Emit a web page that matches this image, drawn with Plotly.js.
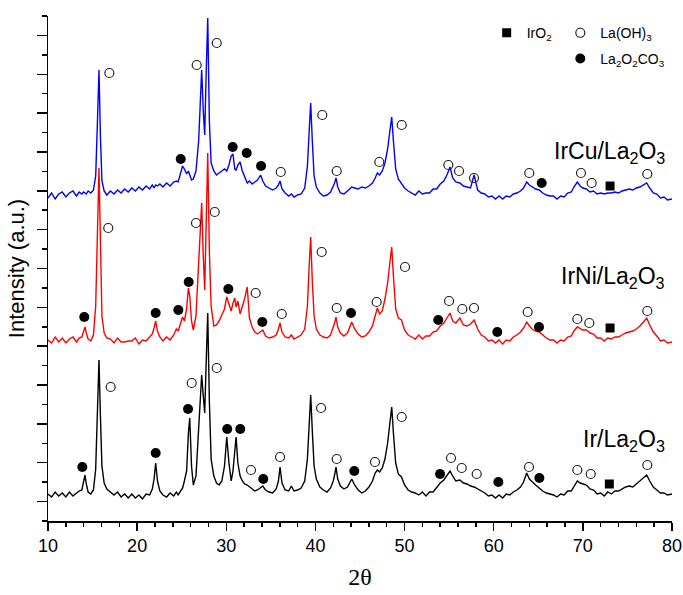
<!DOCTYPE html>
<html>
<head>
<meta charset="utf-8">
<script src="https://cdn.plot.ly/plotly-3.0.1.min.js"></script>
<style>
  html, body { margin: 0; padding: 0; background: #fff; }
  #chart { width: 683px; height: 595px; }
</style>
</head>
<body>
<div id="chart"></div>
<script>
// Diffraction angle grid (2θ, degrees), shared by the three patterns
const twoTheta = [
  10.0, 10.4, 10.8, 11.2, 11.6, 12.0, 12.4, 12.8, 13.2, 13.5,
  13.8, 14.0, 14.15, 14.3, 14.5, 14.8, 15.1, 15.35, 15.55, 15.72,
  15.88, 16.05, 16.3, 16.6, 17.0, 17.4, 17.8, 18.2, 18.6, 19.0,
  19.4, 19.8, 20.2, 20.6, 21.0, 21.4, 21.7, 21.9, 22.08, 22.28,
  22.55, 22.9, 23.3, 23.7, 24.1, 24.4, 24.6, 24.85, 25.1, 25.3,
  25.55, 25.75, 25.9, 26.1, 26.3, 26.6, 26.9, 27.1, 27.24, 27.42,
  27.58, 27.75, 27.92, 28.1, 28.3, 28.6, 28.9, 29.2, 29.5, 29.8,
  30.05, 30.3, 30.55, 30.75, 30.95, 31.1, 31.3, 31.55, 31.8, 32.05,
  32.35, 32.6, 32.9, 33.2, 33.5, 33.85, 34.1, 34.4, 34.8, 35.2,
  35.6, 35.85, 36.03, 36.25, 36.6, 37.0, 37.3, 37.6, 38.0, 38.4,
  38.8, 39.1, 39.3, 39.47, 39.65, 39.85, 40.1, 40.5, 40.9, 41.3,
  41.7, 42.0, 42.15, 42.31, 42.5, 42.8, 43.2, 43.6, 44.07, 44.4,
  44.8, 45.2, 45.6, 46.0, 46.4, 46.7, 46.95, 47.2, 47.5, 47.8,
  48.1, 48.35, 48.56, 48.75, 49.0, 49.3, 49.65, 50.0, 50.4, 50.8,
  51.2, 51.6, 52.0, 52.4, 52.8, 53.2, 53.6, 54.0, 54.4, 54.75,
  55.1, 55.4, 55.75, 56.2, 56.6, 57.0, 57.4, 57.8, 58.2, 58.6,
  59.0, 59.4, 59.8, 60.2, 60.6, 61.0, 61.4, 61.8, 62.2, 62.6,
  63.0, 63.35, 63.7, 64.0, 64.3, 64.7, 65.1, 65.5, 65.9, 66.3,
  66.7, 67.1, 67.5, 67.9, 68.3, 68.7, 69.0, 69.38, 69.7, 70.0,
  70.4, 70.8, 71.2, 71.6, 72.0, 72.4, 72.8, 73.2, 73.6, 74.0,
  74.4, 74.8, 75.2, 75.6, 76.0, 76.4, 76.8, 77.16, 77.5, 77.9,
  78.3, 78.7, 79.1, 79.5, 80.0
];

// Stacked intensities (a.u.), offset patterns
const irLa2O3 = [
  27, 24, 29, 25, 28, 24, 29, 25, 28, 30,
  31, 38, 46, 37, 29, 27, 31, 52, 112, 161,
  105, 55, 38, 32, 29, 26, 29, 24, 27, 23,
  27, 23, 26, 22, 27, 26, 32, 42, 58, 40,
  30, 26, 24, 28, 25, 29, 26, 30, 33, 40,
  50, 88, 103, 55, 36, 45, 90, 125, 146, 125,
  108, 160, 208, 120, 62, 45, 38, 36, 40, 55,
  84, 58, 40, 50, 75, 84, 58, 45, 40, 37,
  36, 34, 32, 30, 31, 33, 35, 31, 29, 28,
  32, 40, 54, 38, 31, 30, 35, 30, 31, 33,
  40, 62, 95, 126, 90, 55, 42, 34, 31, 29,
  33, 40, 46, 54, 42, 35, 32, 34, 42, 36,
  31, 28, 30, 34, 40, 48, 51, 49, 53, 62,
  78, 98, 114, 88, 58, 47, 44, 36, 31, 29,
  28, 26, 29, 25, 29, 29, 34, 38, 41, 45,
  50, 45, 40, 41, 38, 37, 35, 34, 32, 30,
  28, 25, 26, 23, 26, 23, 27, 26, 29, 31,
  34, 39, 48, 42, 39, 36, 33, 30, 28, 27,
  26, 24, 27, 26, 30, 30, 35, 40, 38, 37,
  36, 32, 31, 27, 28, 25, 29, 27, 30, 30,
  32, 34, 35, 34, 37, 40, 43, 46, 40, 34,
  31, 28, 28, 26, 27
];

const irNiLa2O3 = [
  181, 178, 184, 179, 183, 178, 182, 184, 179, 183,
  184, 189, 194, 188, 182, 180, 186, 215, 300, 353,
  280, 205, 188, 183, 182, 178, 183, 179, 179, 180,
  180, 183, 177, 181, 180, 184, 187, 193, 200, 190,
  184, 180, 184, 181, 186, 192, 190, 197, 204, 200,
  212, 233, 225, 200, 191, 205, 260, 300, 318, 265,
  231, 300, 368, 270, 215, 195, 196, 200, 206, 212,
  224, 216, 210, 218, 223, 214, 220, 207, 214, 222,
  234, 203, 194, 189, 187, 189, 191, 185, 183, 184,
  186, 192, 198, 189, 184, 183, 186, 182, 184, 186,
  192, 215, 255, 284, 240, 205, 192, 186, 184, 183,
  186, 193, 198, 204, 194, 188, 185, 188, 199, 192,
  187, 184, 185, 189, 195, 205, 213, 207, 210, 222,
  238, 258, 274, 245, 212, 203, 201, 191, 186, 184,
  182, 186, 182, 185, 185, 189, 190, 195, 198, 203,
  208, 200, 198, 203, 196, 195, 197, 201, 192, 186,
  184, 180, 181, 178, 181, 177, 181, 180, 184, 186,
  189, 193, 199, 195, 192, 190, 189, 186, 183, 181,
  181, 178, 181, 180, 184, 185, 190, 194, 192, 191,
  191, 188, 187, 183, 183, 180, 183, 182, 184, 184,
  186, 188, 189, 190, 192, 195, 199, 203, 196, 189,
  185, 180, 181, 178, 179
];

const irCuLa2O3 = [
  323, 328, 322, 327, 329, 324, 328, 330, 325, 329,
  327, 329, 328, 327, 330, 328, 331, 345, 400, 451,
  385, 340, 330, 326, 330, 327, 331, 328, 332, 329,
  333, 330, 334, 331, 335, 332, 336, 333, 336, 335,
  337, 334, 338, 335, 339, 340, 339, 346, 355, 352,
  347, 350, 345, 341, 342, 350, 380, 420, 451, 410,
  386, 450, 503, 400, 358, 350, 346, 348, 350, 352,
  350, 356, 365, 367, 352, 351, 356, 359, 350, 344,
  338, 340, 337, 339, 341, 346, 340, 335, 333, 331,
  333, 336, 340, 332, 328, 325, 327, 324, 326, 327,
  333, 355, 390, 418, 380, 345, 334, 328, 325, 326,
  329, 334, 338, 343, 334, 328, 327, 330, 334, 333,
  332, 334, 333, 335, 338, 343, 348, 346, 350, 358,
  372, 390, 404, 380, 352, 342, 338, 333, 330, 328,
  326, 330, 327, 328, 328, 332, 332, 337, 340, 346,
  354, 343, 339, 338, 335, 334, 333, 346, 331, 328,
  327, 324, 325, 322, 325, 322, 325, 324, 327, 328,
  330, 333, 339, 336, 334, 332, 331, 328, 326, 325,
  325, 322, 325, 324, 328, 329, 334, 339, 335, 333,
  332, 329, 330, 327, 328, 327, 328, 328, 329, 328,
  330, 331, 332, 331, 333, 334, 336, 338, 333, 328,
  327, 323, 324, 321, 322
];

// Phase reflection marks (2θ and marker height on the stacked scale)
const irO2Theta = [72.97, 73.05, 73.05];
const irO2Y = [37, 193, 335];

const laOH3Theta = [
  17.03, 26.12, 28.93, 32.77, 36.03, 40.63, 42.39, 46.68, 49.68, 55.21, 56.41, 58.09, 63.96, 69.38, 70.88, 77.23,
  16.76, 26.60, 28.70, 33.30, 36.22, 40.70, 42.39, 46.87, 50.05, 54.99, 56.48, 57.79, 63.81, 69.38, 70.72, 77.23,
  16.88, 26.68, 28.93, 36.11, 40.77, 42.39, 47.17, 49.68, 54.91, 56.11, 57.79, 63.99, 69.79, 70.99, 77.23
];
const laOH3Y = [
  134, 138, 153, 51, 64, 113, 62, 59, 104, 63, 53, 47, 54, 51, 47, 56,
  293, 298, 309, 228, 207, 269, 213, 219, 254, 220, 212, 213, 209, 202, 198, 210,
  448, 456, 478, 349, 406, 350, 359, 396, 356, 350, 343, 348, 348, 338, 347
];

const la2O2CO3Theta = [
  13.85, 22.08, 25.71, 30.11, 31.57, 34.15, 44.36, 53.98, 60.52, 65.12,
  14.07, 22.08, 24.62, 25.78, 30.23, 34.04, 43.99, 53.78, 60.40, 65.08,
  24.89, 30.72, 32.29, 33.90, 65.38
];
const la2O2CO3Y = [
  54, 68, 112, 92, 92, 42, 50, 47, 39, 43,
  204, 208, 211, 239, 232, 199, 208, 201, 189, 194,
  362, 374, 368, 355, 338
];

const sampleNames = ['Ir/La<sub>2</sub>O<sub>3</sub>', 'IrNi/La<sub>2</sub>O<sub>3</sub>', 'IrCu/La<sub>2</sub>O<sub>3</sub>'];
const sampleLabelY = [81, 244, 369];
const sampleColors = ['#000000', '#ff0000', '#0000ff'];
const phaseNames = ['IrO<sub>2</sub>', 'La(OH)<sub>3</sub>', 'La<sub>2</sub>O<sub>2</sub>CO<sub>3</sub>'];

const sansFont = 'Liberation Sans, Arial, sans-serif';
const serifFont = 'Liberation Serif, Times New Roman, serif';

const patterns = [irLa2O3, irNiLa2O3, irCuLa2O3];
const traces = patterns.map((ys, i) => ({
  type: 'scatter',
  mode: 'lines',
  x: twoTheta,
  y: ys,
  line: { color: sampleColors[i], width: 1.4 },
  showlegend: false,
  hoverinfo: 'skip'
}));

traces.push({
  type: 'scatter', mode: 'markers', name: phaseNames[0], legend: 'legend',
  x: irO2Theta, y: irO2Y, cliponaxis: false,
  marker: { symbol: 'square', size: 9, color: '#000' }
});
traces.push({
  type: 'scatter', mode: 'markers', name: phaseNames[1], legend: 'legend2',
  x: laOH3Theta, y: laOH3Y, cliponaxis: false,
  marker: { symbol: 'circle-open', size: 9, color: '#222', line: { width: 1.2 } }
});
traces.push({
  type: 'scatter', mode: 'markers', name: phaseNames[2], legend: 'legend3',
  x: la2O2CO3Theta, y: la2O2CO3Y, cliponaxis: false,
  marker: { symbol: 'circle', size: 10, color: '#000' }
});

const legendBase = {
  xanchor: 'left', yanchor: 'middle',
  bgcolor: 'rgba(0,0,0,0)', borderwidth: 0,
  font: { family: sansFont, size: 14, color: '#000' },
  itemwidth: 30
};

const layout = {
  width: 683, height: 595,
  margin: { l: 48, r: 11, t: 16, b: 74 },
  paper_bgcolor: '#fff', plot_bgcolor: '#fff',
  showlegend: true,
  legend: Object.assign({}, legendBase, { x: 0.703, y: 0.966 }),
  legend2: Object.assign({}, legendBase, { x: 0.821, y: 0.966 }),
  legend3: Object.assign({}, legendBase, { x: 0.821, y: 0.915 }),
  xaxis: {
    range: [10, 80],
    tick0: 10, dtick: 10,
    ticks: 'outside', ticklen: 8, tickwidth: 1.5, tickcolor: '#000',
    minor: { dtick: 2, ticks: 'outside', ticklen: 4, tickwidth: 1.5, tickcolor: '#000' },
    showline: true, linewidth: 1.5, linecolor: '#000',
    showgrid: false, zeroline: false,
    tickfont: { family: sansFont, size: 18, color: '#000' },
    title: { text: '2θ', font: { family: serifFont, size: 24, color: '#000' }, standoff: 13 }
  },
  yaxis: {
    range: [0, 505],
    tick0: 19.423, dtick: 38.846,
    ticks: 'outside', ticklen: 10, tickwidth: 1.5, tickcolor: '#000',
    minor: { tick0: 0, dtick: 19.423, ticks: 'outside', ticklen: 5, tickwidth: 1.5, tickcolor: '#000' },
    showticklabels: false,
    showline: true, linewidth: 1.5, linecolor: '#000',
    showgrid: false, zeroline: false,
    title: { text: 'Intensity (a.u.)', font: { family: sansFont, size: 22, color: '#000' }, standoff: 6 }
  },
  annotations: sampleNames.map((name, i) => ({
    xref: 'paper', yref: 'y',
    x: 0.992, y: sampleLabelY[i],
    xanchor: 'right', yanchor: 'middle',
    text: name, showarrow: false,
    font: { family: sansFont, size: 23, color: '#000' }
  }))
};

Plotly.newPlot('chart', traces, layout, { displayModeBar: false, staticPlot: true });
</script>
</body>
</html>
